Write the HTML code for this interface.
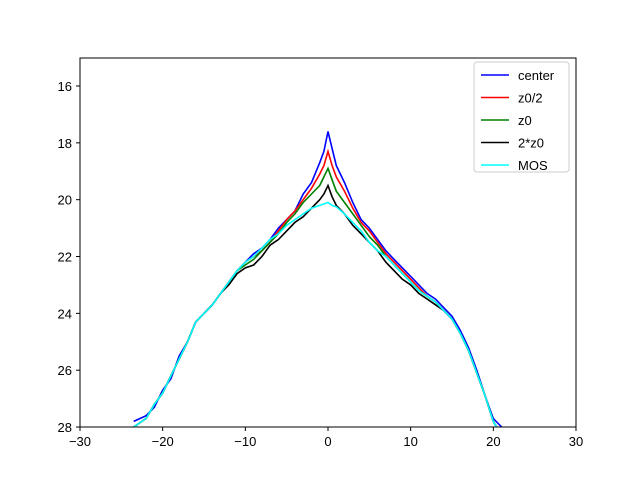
<!DOCTYPE html>
<html><head><meta charset="utf-8"><style>body{margin:0;background:#fff}svg{display:block;font-family:"Liberation Sans","DejaVu Sans",sans-serif}</style></head>
<body>
<svg id="chart" width="640" height="480">
<rect width="640" height="480" fill="#fff"/>
<g id="plot"></g>
<rect x="80" y="58" width="496" height="369" fill="none" stroke="#000" stroke-width="1"/>
<g id="axes" font-size="13" fill="#000"></g>
<g id="legend"></g>
</svg>
<script>
const xs=[-23.5,-22,-21,-20,-19,-18,-17,-16,-15,-14,-13,-12,-11,-10,-9,-8,-7,-6,-5,-4,-3,-2,-1,-0.5,0,0.5,1,2,3,4,5,6,7,8,9,10,11,12,13,14,15,16,17,18,19,20,21];
const mos=[28,27.7,27.2,26.8,26.2,25.6,25.0,24.3,24.0,23.7,23.3,22.9,22.5,22.2,22.0,21.7,21.4,21.2,20.9,20.7,20.5,20.3,20.2,20.15,20.1,20.2,20.25,20.5,20.8,21.1,21.5,21.8,22.0,22.3,22.6,22.9,23.2,23.4,23.6,23.9,24.2,24.7,25.3,26.1,26.9,27.8,28.3];
const twoZ0=[28,27.7,27.2,26.8,26.2,25.6,25.0,24.3,24.0,23.7,23.3,23.0,22.6,22.4,22.3,22.0,21.6,21.4,21.1,20.8,20.6,20.3,20.0,19.8,19.5,19.9,20.2,20.5,20.9,21.2,21.5,21.8,22.2,22.5,22.8,23.0,23.3,23.5,23.7,23.9,24.2,24.7,25.3,26.1,26.9,27.8,28.3];
const z0=[28,27.7,27.2,26.8,26.2,25.6,25.0,24.3,24.0,23.7,23.3,22.9,22.5,22.3,22.1,21.8,21.5,21.2,20.8,20.5,20.1,19.8,19.5,19.2,18.9,19.3,19.7,20.1,20.5,20.9,21.3,21.6,22.0,22.3,22.6,22.9,23.2,23.4,23.6,23.9,24.2,24.7,25.3,26.1,26.9,27.8,28.3];
const z0half=[28,27.7,27.2,26.8,26.2,25.6,25.0,24.3,24.0,23.7,23.3,22.9,22.5,22.2,22.0,21.8,21.5,21.1,20.7,20.4,20.0,19.6,19.1,18.8,18.3,18.8,19.2,19.7,20.3,20.8,21.1,21.5,21.9,22.2,22.5,22.8,23.1,23.4,23.6,23.9,24.2,24.7,25.3,26.1,26.9,27.8,28.3];
const center=[27.8,27.6,27.3,26.7,26.3,25.5,25.0,24.3,24.0,23.7,23.3,22.9,22.5,22.2,21.9,21.7,21.4,21.0,20.7,20.4,19.8,19.4,18.7,18.3,17.6,18.2,18.8,19.4,20.1,20.7,21.0,21.4,21.8,22.1,22.4,22.7,23.0,23.3,23.5,23.8,24.1,24.6,25.2,26.0,26.9,27.7,28.0];
const seriesNames=["center","z0/2","z0","2*z0","MOS"];
const seriesColors=["#0000ff","#ff0000","#008000","#000000","#00ffff"];
const seriesData=[center,z0half,z0,twoZ0,mos];
const xTicks=[-30,-20,-10,0,10,20,30];
const yTicks=[16,18,20,22,24,26,28];
const NS="http://www.w3.org/2000/svg";
const X=v=>80+(v+30)/60*496;
const Y=v=>86+(v-16)*28.42;
function mk(t,a,p){const e=document.createElementNS(NS,t);for(const k in a)e.setAttribute(k,a[k]);p.appendChild(e);return e;}
const plot=document.getElementById('plot');
mk('clipPath',{id:'clip'},plot).appendChild(Object.assign(document.createElementNS(NS,'rect'),{}));
document.querySelector('#clip rect').setAttribute('x',80);document.querySelector('#clip rect').setAttribute('y',58);document.querySelector('#clip rect').setAttribute('width',496);document.querySelector('#clip rect').setAttribute('height',369);
for(let i=seriesData.length-1;i>=0;i--){}
[0,1,2,3,4].forEach(i=>{
 const d=seriesData[i].map((v,j)=>(j?'L':'M')+X(xs[j]).toFixed(1)+','+Y(v).toFixed(1)).join('');
 const p=mk('path',{d:d,fill:'none',stroke:seriesColors[i],'stroke-width':1.6,'clip-path':'url(#clip)'},plot);
 
 
});
const ax=document.getElementById('axes');
xTicks.forEach(t=>{
 const l=mk('line',{x1:X(t),x2:X(t),y1:427,y2:431,stroke:'#000'},ax);
 
 
 const tx=mk('text',{x:X(t),y:446,'text-anchor':'middle'},ax);tx.textContent=t<0?'\u2212'+(-t):t;
 
 
});
yTicks.forEach(t=>{
 const l=mk('line',{x1:76,x2:80,y1:Y(t),y2:Y(t),stroke:'#000'},ax);
 
 
 const tx=mk('text',{x:72,y:Y(t)+5,'text-anchor':'end'},ax);tx.textContent=t;
 
 
});
const lg=document.getElementById('legend');
mk('rect',{x:474,y:62,width:95,height:110,rx:3,fill:'#fff',stroke:'#ccc'},lg);
seriesNames.forEach((n,i)=>{
 const y=75+i*22.5;
 const l=mk('line',{x1:481,x2:509,y1:y,y2:y,stroke:seriesColors[i],'stroke-width':1.6},lg);
 
 
 const t=mk('text',{x:518,y:y+5,'font-size':13},lg);t.textContent=n;
 
 
});
</script>
</body></html>
